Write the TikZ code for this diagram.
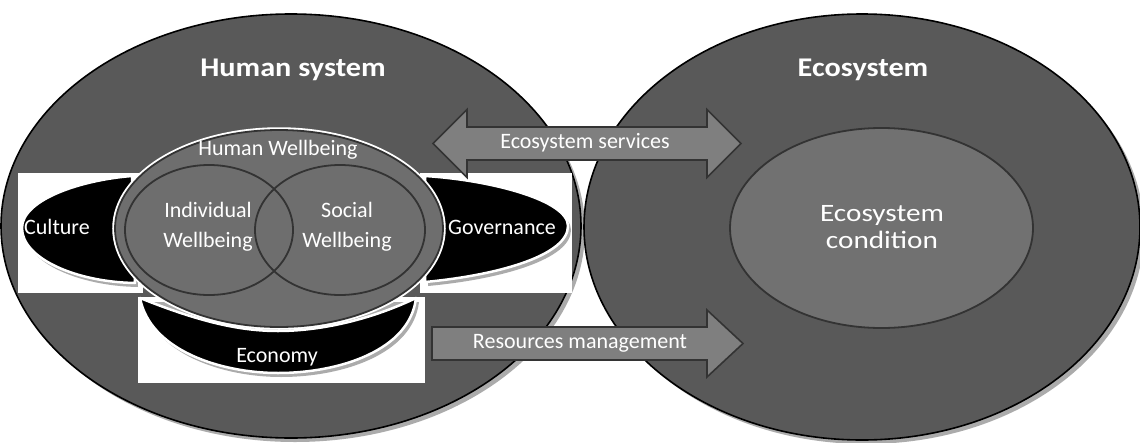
\documentclass[tikz,border=0pt]{standalone}
\usepackage{fontspec}
\setmainfont{Carlito}
\newfontfamily\titlefont[FakeStretch=1.12]{Carlito}
\newfontfamily\condfont[FakeStretch=1.17]{Carlito}
\usetikzlibrary{shapes.geometric}
\definecolor{outerfill}{HTML}{595959}
\definecolor{wellfill}{HTML}{6E6E6E}
\definecolor{condfill}{HTML}{717171}
\definecolor{arrowfill}{HTML}{7F7F7F}
\definecolor{shadowc}{HTML}{ABABAB}
\definecolor{edgec}{HTML}{333333}
\begin{document}
\begin{tikzpicture}[x=1pt,y=-1pt,
  every node/.style={inner sep=0pt, outer sep=0pt},
  outer/.style={ellipse, fill=outerfill, draw=black, line width=1.6pt},
  shadowell/.style={ellipse, fill=shadowc},
  lbl/.style={text=white, font=\fontsize{22}{30}\selectfont, align=center},
  title/.style={text=white, font=\titlefont\fontsize{27}{30}\selectfont\bfseries},
  blob/.style={fill=black, draw=white, line width=2.5pt, line join=round},
  blobshadow/.style={fill=shadowc},
  whitebox/.style={fill=white},
  ring/.style={ellipse, draw=edgec, line width=1.8pt},
  arr/.style={fill=arrowfill, draw=edgec, line width=1.6pt, line join=miter}]

\useasboundingbox (0,0) rectangle (1140,442);
\fill[white] (0,0) rectangle (1140,442);

% outer ellipses with shadows
\node[shadowell, minimum width=580pt, minimum height=424pt] (humansh) at (295,230) {};
\node[outer, minimum width=580pt, minimum height=424pt] (human) at (291,226) {};
\node[shadowell, minimum width=556pt, minimum height=426pt] (ecosh) at (866,231) {};
\node[outer, minimum width=556pt, minimum height=426pt] (eco) at (862,227) {};

% white boxes
\node[whitebox, minimum width=125pt, minimum height=120pt] (culturebox) at (80.5,233) {};
\node[whitebox, minimum width=152pt, minimum height=120pt] (govbox) at (496,233) {};
\node[whitebox, minimum width=287pt, minimum height=86pt] (econbox) at (281.5,340) {};

% black blobs with shadows
\begin{scope}[shift={(3,4)}]
\fill[blobshadow] (132,176) .. controls (80,180) and (22,200) .. (22,228) .. controls (22,258) and (75,282) .. (135,283) -- cycle;
\fill[blobshadow] (425,176) .. controls (490,180) and (568,200) .. (568,226) .. controls (568,255) and (500,275) .. (425,282) -- cycle;
\fill[blobshadow] (140,298) .. controls (150,350) and (220,373) .. (278,373) .. controls (340,373) and (410,350) .. (416,298) -- cycle;
\end{scope}
\path[blob] (132,176) .. controls (80,180) and (22,200) .. (22,228) .. controls (22,258) and (75,282) .. (135,283) -- cycle;
\path[blob] (425,176) .. controls (490,180) and (568,200) .. (568,226) .. controls (568,255) and (500,275) .. (425,282) -- cycle;
\path[blob] (140,298) .. controls (200,322) and (240,331) .. (278,331) .. controls (320,331) and (370,320) .. (416,298) .. controls (410,350) and (340,373) .. (278,373) .. controls (220,373) and (150,350) .. (140,298) -- cycle;

% wellbeing ellipses
\node[ring, fill=wellfill, preaction={draw=white, line width=5.5pt}, minimum width=328pt, minimum height=197pt] (wellbeing) at (279,228.5) {};
\node[ring, minimum width=168pt, minimum height=130pt] (indiv) at (209,230) {};
\node[ring, minimum width=170pt, minimum height=130pt] (social) at (340,230) {};

% ecosystem condition
\node[ring, fill=condfill, minimum width=303pt, minimum height=200pt] (cond) at (881.5,228) {};

% arrows
\path[arr] (433,143.5) -- (467,109.5) -- (467,127) -- (707,127) -- (707,109.5) -- (741,143.5) -- (707,177.5) -- (707,160) -- (467,160) -- (467,177.5) -- cycle;
\path[arr] (432,327) -- (707,327) -- (707,310) -- (743,343.5) -- (707,377) -- (707,360) -- (432,360) -- cycle;

% labels
\node[title] (humanlbl) at (293,70) {Human system};
\node[title] (ecolbl) at (863,70) {Ecosystem};
\node[lbl] (welllbl) at (278,150) {Human Wellbeing};
\node[lbl] (indivlbl) at (208,227) {Individual\\Wellbeing};
\node[lbl] (sociallbl) at (347,227) {Social\\Wellbeing};
\node[lbl] (culturelbl) at (57,227) {Culture};
\node[lbl] (govlbl) at (502,227) {Governance};
\node[lbl] (econlbl) at (277,357) {Economy};
\node[lbl] (eslbl) at (585,143) {Ecosystem services};
\node[lbl] (rmlbl) at (580,343) {Resources management};
\node[lbl, font=\condfont\fontsize{25}{27}\selectfont] (condlbl) at (882,227) {Ecosystem\\condition};
\end{tikzpicture}
\end{document}
